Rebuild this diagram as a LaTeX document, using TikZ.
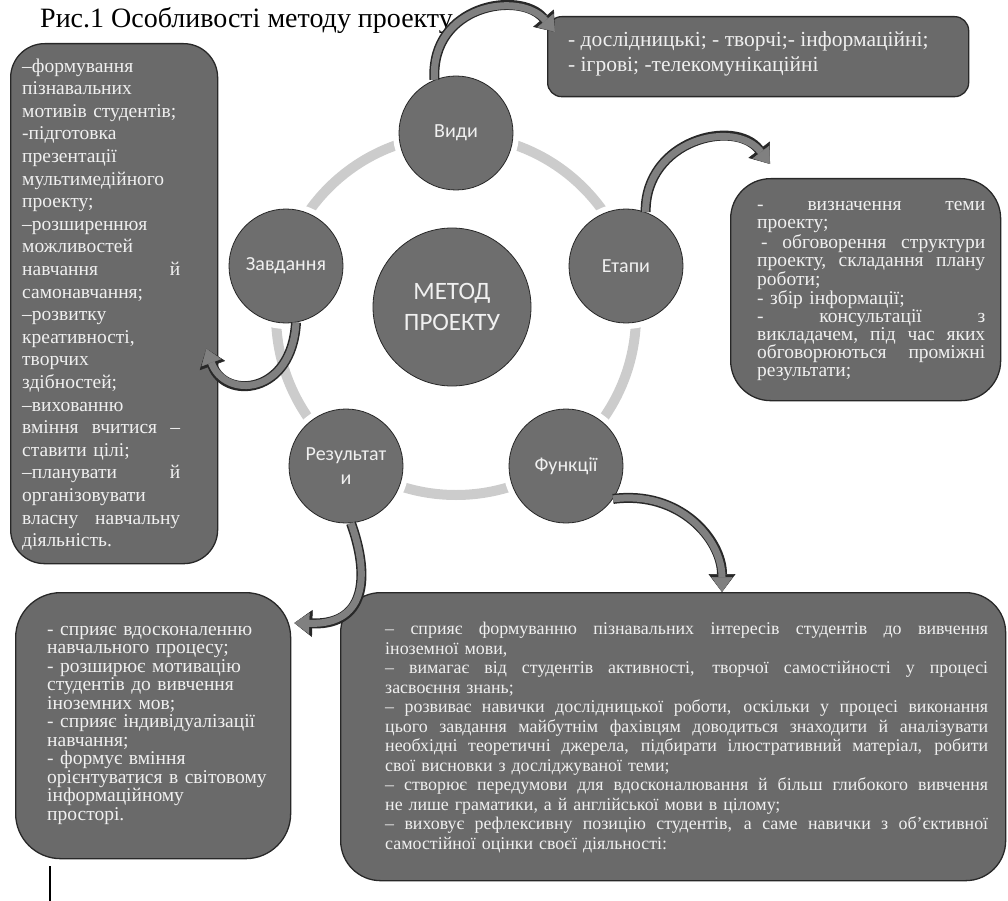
\documentclass[tikz,border=0pt]{standalone}
\usepackage{fontspec}
\setmainfont{Liberation Serif}
\newfontfamily\discfont{Carlito}
\usetikzlibrary{arrows.meta, positioning, calc}
\setlength{\parindent}{0pt}

\definecolor{ringgray}{RGB}{204,204,204}
\definecolor{discgray}{RGB}{110,110,110}
\definecolor{boxgray}{RGB}{106,106,106}
\definecolor{edgegray}{RGB}{40,40,40}
\definecolor{arrowgray}{RGB}{128,128,128}
\definecolor{lighttext}{RGB}{240,240,240}

\newcommand{\fs}[2]{\fontsize{#1}{#2}\selectfont}
\newlength{\funkwidth}
\setlength{\funkwidth}{603pt}
% justified line: TikZ's align=left fixes \spaceskip, so give it stretch again
\newcommand{\jline}[1]{\makebox[\funkwidth][s]{\spaceskip=0.25em plus 3em\relax #1}}

\begin{document}
\begin{tikzpicture}[x=1pt, y=-1pt,
    disc/.style={circle, fill=discgray, draw=edgegray, line width=0.8pt,
      preaction={draw=white, line width=12pt}, minimum size=114pt,
      inner sep=0pt, align=center, text=lighttext, font=\discfont\fs{20}{24}},
    infobox/.style={rectangle, fill=boxgray, draw=edgegray, line width=1.3pt,
      anchor=north west, inner sep=0pt},
    boxtext/.style={anchor=north west, inner sep=0pt, text=lighttext, align=left},
    bentdark/.style={draw=edgegray, line width=10pt,
      -{Triangle[length=18pt, width=27pt, line width=0.5pt]}},
    bentlight/.style={draw=arrowgray, line width=7pt,
      -{Triangle[length=15pt, width=21pt, line width=0.5pt]}}]
  \useasboundingbox (0,0) rectangle (1008,901);

  % title
  \node[anchor=base west, inner sep=0pt, font=\fs{28}{31}] (title) at (40,28)
    {Рис.1 Особливості методу проекту};

  % cycle
  \coordinate (hub) at (456,315);
  \draw[ringgray, line width=10pt] (hub) circle[radius=180];
  \node[disc, minimum size=158pt, font=\discfont\fs{25}{31}] (hubdisc) at (452,307)
    {МЕТОД\\ПРОЕКТУ};
  \foreach \name/\pos/\txt in {vydy/{(456,133)}/Види, etapy/{(626,266)}/Етапи,
      funk/{(566,466)}/Функції, rez/{(346,466)}/Результат\\и, zavd/{(286,266)}/Завдання}
    \node[disc] (\name) at \pos {\txt};

  % boxes
  \node[infobox, rounded corners=34pt, minimum width=207pt, minimum height=520pt]
    (zavdbox) at (10,43) {};
  \node[boxtext, text width=158pt, font=\fs{19.5}{22.6}] (zavdtext)
    at ([shift={(12pt,-13pt)}]zavdbox.north west)
    {\strut–формування\\пізнавальних\\мотивів студентів;\\-підготовка\\презентації\\
     мультимедійного\\проекту;\\–розширеннюя\\можливостей\\навчання\hfill й\\
     самонавчання;\\–розвитку\\креативності,\\творчих\\здібностей;\\–вихованню\\
     вміння\hfill вчитися\hfill –\\ставити цілі;\\–планувати\hfill й\\
     організовувати\\власну\hfill навчальну\\діяльність.};

  \node[infobox, rounded corners=14pt, minimum width=421pt, minimum height=80pt]
    (vydybox) at (547,16) {};
  \node[boxtext, font=\fs{21.5}{25}] (vydytext)
    at ([shift={(21pt,-13pt)}]vydybox.north west)
    {\strut- дослідницькі; - творчі;- інформаційні;\\- ігрові; -телекомунікаційні};

  \node[infobox, rounded corners=40pt, minimum width=270pt, minimum height=222pt]
    (etapbox) at (730,178) {};
  \node[boxtext, text width=228pt, font=\fs{19.5}{18.1}] (etaptext)
    at ([shift={(27pt,-20pt)}]etapbox.north west)
    {\strut-\hfill визначення\hfill теми\\проекту;\\
     \hspace*{4pt}-\hfill обговорення\hfill структури\\проекту,\hfill складання\hfill плану\\
     роботи;\\- збір інформації;\\-\hfill консультації\hfill з\\
     викладачем,\hfill під\hfill час\hfill яких\\обговорюються\hfill проміжні\\результати;};

  \node[infobox, rounded corners=45pt, minimum width=275pt, minimum height=266pt]
    (rezbox) at (15,592) {};
  \node[boxtext, text width=240pt, font=\fs{19.5}{18.5}] (reztext)
    at ([shift={(32pt,-30pt)}]rezbox.north west)
    {\strut- сприяє вдосконаленню\\навчального процесу;\\- розширює мотивацію\\
     студентів до вивчення\\іноземних мов;\\- сприяє індивідуалізації\\навчання;\\
     - формує вміння\\орієнтуватися в світовому\\інформаційному\\просторі.};

  \node[infobox, rounded corners=40pt, minimum width=665pt, minimum height=288pt]
    (funkbox) at (340,592) {};
  \node[boxtext, text width=605pt, font=\fs{17.9}{19.5}] (funktext)
    at ([shift={(45pt,-29pt)}]funkbox.north west)
    {\jline{\strut– сприяє формуванню пізнавальних інтересів студентів до вивчення}\\
     іноземної мови,\\
     \jline{– вимагає від студентів активності, творчої самостійності у процесі}\\
     засвоєння знань;\\
     \jline{– розвиває навички дослідницької роботи, оскільки у процесі виконання}\\
     \jline{цього завдання майбутнім фахівцям доводиться знаходити й аналізувати}\\
     \jline{необхідні теоретичні джерела, підбирати ілюстративний матеріал, робити}\\
     свої висновки з досліджуваної теми;\\
     \jline{– створює передумови для вдосконалювання й більш глибокого вивчення}\\
     не лише граматики, а й англійської мови в цілому;\\
     \jline{– виховує рефлексивну позицію студентів, а саме навички з об’єктивної}\\
     самостійної оцінки своєї діяльності:};

  % bent arrows
  \draw[bentdark] (vydy.112) .. controls (430,5) and (520,-10) .. ([shift={(8pt,-16pt)}]vydybox.north west);
  \draw[bentlight] (vydy.112) .. controls (430,5) and (520,-10) .. ([shift={(8pt,-16pt)}]vydybox.north west);
  \draw[bentdark] (etapy.70) .. controls (645,140) and (735,118) .. ([shift={(40pt,14pt)}]etapbox.north west);
  \draw[bentlight] (etapy.70) .. controls (645,140) and (735,118) .. ([shift={(40pt,14pt)}]etapbox.north west);
  \draw[bentdark] (zavd.-80) .. controls (292,395) and (225,400) .. ([shift={(-12pt,-45pt)}]zavdbox.east);
  \draw[bentlight] (zavd.-80) .. controls (292,395) and (225,400) .. ([shift={(-12pt,-45pt)}]zavdbox.east);
  \draw[bentdark] (funk.-35) .. controls (680,490) and (722,540) .. ([shift={(382pt,0pt)}]funkbox.north west);
  \draw[bentlight] (funk.-35) .. controls (680,490) and (722,540) .. ([shift={(382pt,0pt)}]funkbox.north west);
  \draw[bentdark] (rez.-85) .. controls (368,570) and (370,625) .. ([shift={(3pt,-31pt)}]rezbox.north east);
  \draw[bentlight] (rez.-85) .. controls (368,570) and (370,625) .. ([shift={(3pt,-31pt)}]rezbox.north east);

  % cursor mark
  \draw[line width=1.6pt] (50,866) -- (50,901);
\end{tikzpicture}
\end{document}
